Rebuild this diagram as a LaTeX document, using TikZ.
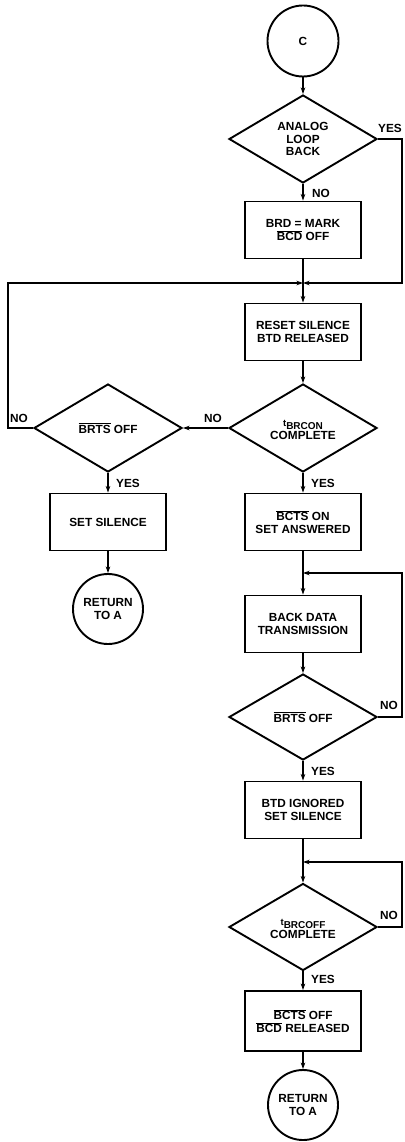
\documentclass[tikz,border=0pt]{standalone}
\usepackage{fontspec}
\setmainfont{Liberation Sans}
\usetikzlibrary{shapes.geometric,arrows.meta}
\newcommand{\ovl}[1]{$\overline{\mbox{#1}}$}
\newcommand{\tsub}[1]{{\fontsize{9.5}{10}\selectfont t}\raisebox{-2.5pt}{\fontsize{10}{10}\selectfont #1}}
\tikzset{
  txtfont/.style={font=\fontsize{11.8}{12.8}\selectfont\bfseries},
  boxnode/.style={draw, line width=1.9pt, minimum width=116pt, minimum height=57pt, inner sep=0pt, align=center, txtfont},
  dianode/.style={draw, diamond, line width=1.9pt, minimum width=148pt, minimum height=88pt, inner sep=0pt},
  circnode/.style={draw, circle, line width=1.9pt, minimum size=71pt, inner sep=0pt, align=center, txtfont},
  txtnode/.style={align=center, inner sep=0pt, txtfont},
  lbl/.style={inner sep=0pt, txtfont},
  conn/.style={line width=1.3pt},
  arr/.style={conn, -{Stealth[length=6.5pt,width=4.5pt]}}
}
\begin{document}
\begin{tikzpicture}[x=1pt,y=-1pt]
\useasboundingbox (0,0) rectangle (404,1142);
% main column
\node[circnode] (c1) at (303,41) {C};
\node[dianode] (d1) at (303,139) {};
\node[txtnode] (d1t) at (d1.center) {ANALOG\\LOOP\\BACK};
\node[boxnode] (b1) at (303,230) {BRD = MARK\\\ovl{BCD} OFF};
\coordinate (m1) at (303,283);
\node[boxnode] (b2) at (303,332) {RESET SILENCE\\BTD RELEASED};
\node[dianode] (d2) at (303,428) {};
\node[txtnode] (d2t) at (303,430) {\tsub{BRCON}\\COMPLETE};
\node[boxnode] (b4) at (303,522) {\ovl{BCTS} ON\\SET ANSWERED};
\coordinate (m2) at (303,573);
\node[boxnode] (b5) at (303,624) {BACK DATA\\TRANSMISSION};
\node[dianode, minimum height=86pt] (d4) at (303,717) {};
\node[txtnode] (d4t) at (d4.center) {\ovl{BRTS} OFF};
\node[boxnode] (b6) at (303,810) {BTD IGNORED\\SET SILENCE};
\coordinate (m3) at (303,862);
\node[dianode, minimum height=87pt] (d5) at (303,927) {};
\node[txtnode] (d5t) at (303,929) {\tsub{BRCOFF}\\COMPLETE};
\node[boxnode, minimum height=60pt] (b7) at (303,1021) {\ovl{BCTS} OFF\\\ovl{BCD} RELEASED};
\node[circnode, minimum size=70pt] (c3) at (303,1105) {RETURN\\TO A};
% left column
\node[dianode] (d3) at (108,428) {};
\node[txtnode] (d3t) at (d3.center) {\ovl{BRTS} OFF};
\node[boxnode] (b3) at (108,522) {SET SILENCE};
\node[circnode, minimum size=70pt] (c2) at (108,609) {RETURN\\TO A};
% corner points
\coordinate (r1) at (402,139);
\coordinate (l1) at (8,428);
\coordinate (r4) at (402,717);
\coordinate (r5) at (402,927);
% connectors
\draw[arr] (c1.south) -- (d1.north);
\draw[arr] (d1.south) -- (b1.north);
\draw[arr] (b1.south) -- (b2.north);
\draw[arr] (d1.east) -- (r1) |- (m1);
\draw[arr] (d3.west) -- (l1) |- (m1);
\draw[arr] (b2.south) -- (d2.north);
\draw[arr] (d2.west) -- (d3.east);
\draw[arr] (d3.south) -- (b3.north);
\draw[arr] (b3.south) -- (c2.north);
\draw[arr] (d2.south) -- (b4.north);
\draw[arr] (b4.south) -- (b5.north);
\draw[arr] (d4.east) -- (r4) |- (m2);
\draw[arr] (b5.south) -- (d4.north);
\draw[arr] (d4.south) -- (b6.north);
\draw[arr] (b6.south) -- (d5.north);
\draw[arr] (d5.east) -- (r5) |- (m3);
\draw[arr] (d5.south) -- (b7.north);
\draw[arr] (b7.south) -- (c3.north);
% labels
\node[lbl] (y1) at (390,128) {YES};
\node[lbl] (n1) at (321,193) {NO};
\node[lbl] (n2) at (213,418) {NO};
\node[lbl] (n3) at (19,418) {NO};
\node[lbl] (y3) at (128,483) {YES};
\node[lbl] (y2) at (323,483) {YES};
\node[lbl] (n4) at (389,705) {NO};
\node[lbl] (y4) at (323,771) {YES};
\node[lbl] (n5) at (389,915) {NO};
\node[lbl] (y5) at (323,979) {YES};
\end{tikzpicture}
\end{document}
